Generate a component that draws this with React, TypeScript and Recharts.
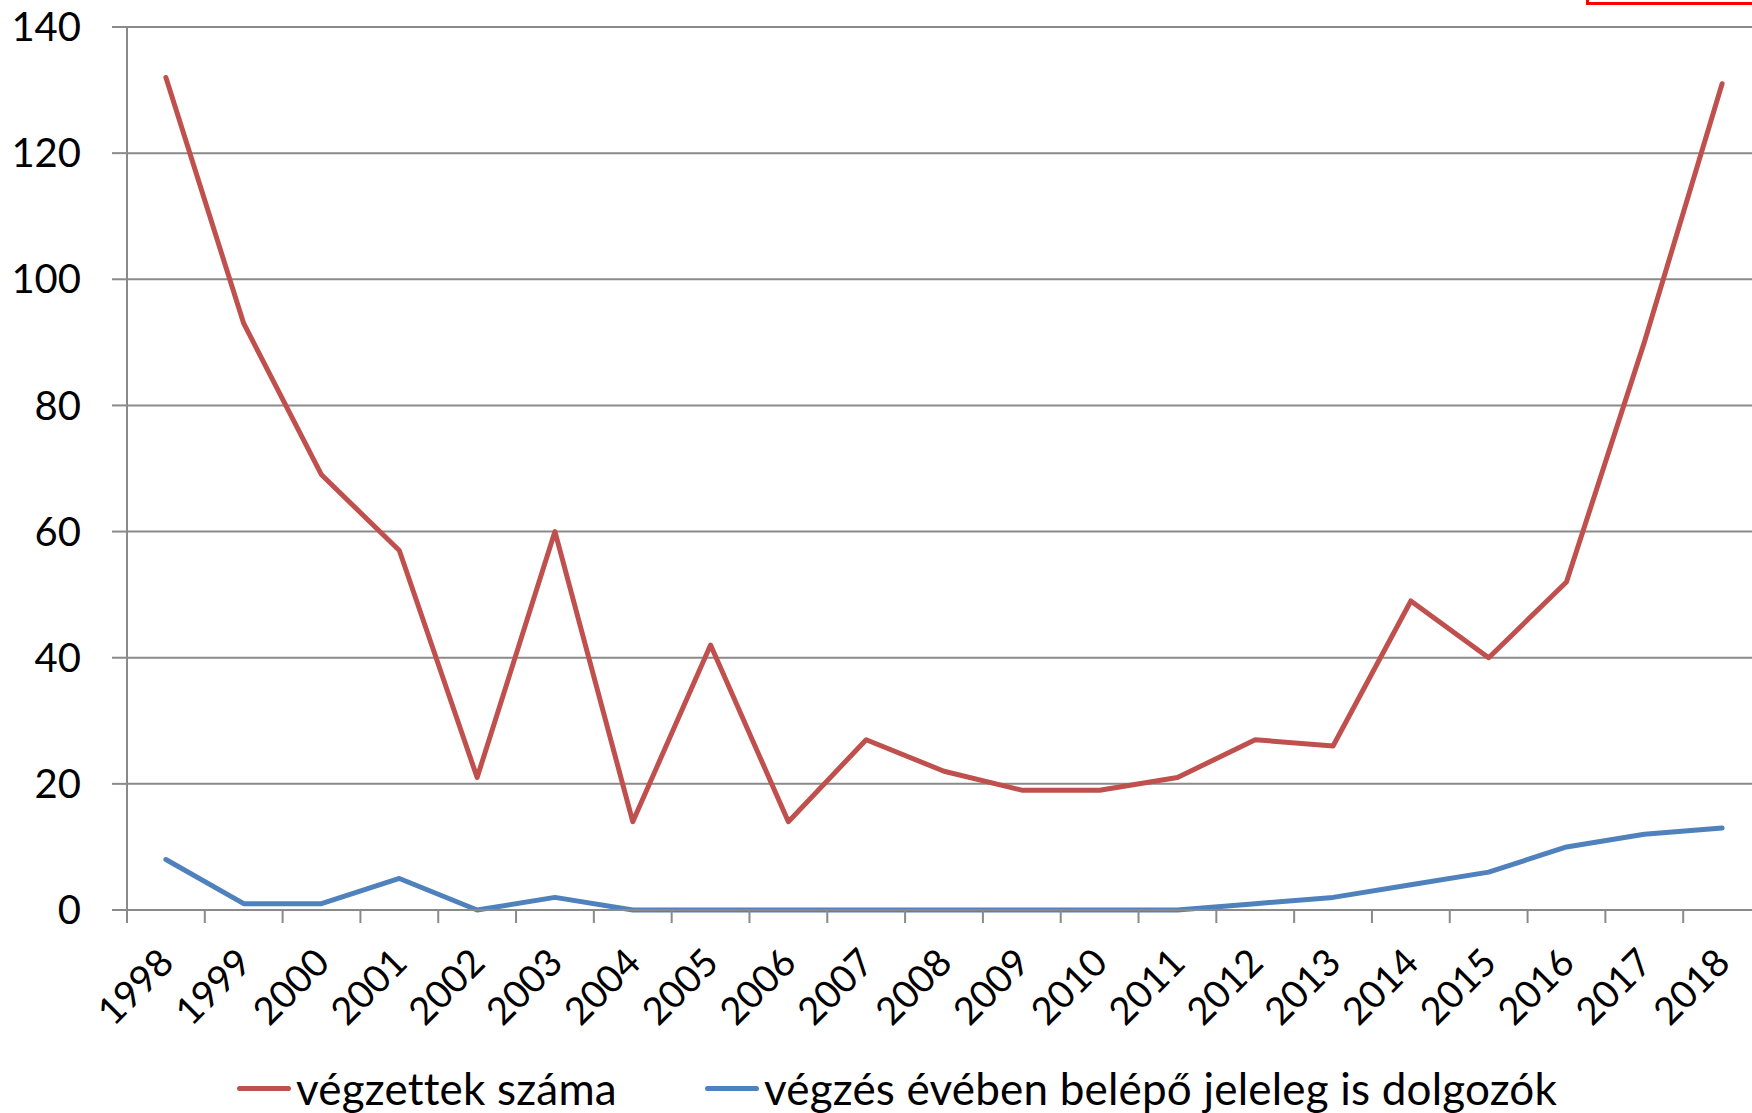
import React from 'react';
import { LineChart, Line, XAxis, YAxis, CartesianGrid, Legend } from 'recharts';

const years = ['1998', '1999', '2000', '2001', '2002', '2003', '2004', '2005', '2006', '2007', '2008', '2009', '2010', '2011', '2012', '2013', '2014', '2015', '2016', '2017', '2018'];
const vegzettek = [132, 93, 69, 57, 21, 60, 14, 42, 14, 27, 22, 19, 19, 21, 27, 26, 49, 40, 52, 90, 131];
const belepok = [8, 1, 1, 5, 0, 2, 0, 0, 0, 0, 0, 0, 0, 0, 1, 2, 4, 6, 10, 12, 13];
const yTicks = [0, 20, 40, 60, 80, 100, 120, 140];

const RED = '#C0504D';
const BLUE = '#4F81BD';
const GRID = '#8A8A8A';
const FONT = 'Lato, "Open Sans", sans-serif';
const BAND = 1634 / years.length;

const data = years.map((year, i) => ({ year, vegzettek: vegzettek[i], belepok: belepok[i] }));

const YearTick = (props: any) => {
  const { x, y, payload } = props;
  const lx = x - BAND / 2;
  const tx = x + 10;
  const ty = y + 42;
  return (
    <g>
      <line x1={lx} x2={lx} y1={y - 13} y2={y} stroke={GRID} strokeWidth={2} />
      <text x={tx} y={ty} transform={`rotate(-45, ${tx}, ${ty})`} textAnchor="end" fill="#000" fontSize={38} fontFamily={FONT}>
        {payload.value}
      </text>
    </g>
  );
};

const LegendContent = (props: any) => {
  const { payload } = props;
  return (
    <div style={{ display: 'flex', alignItems: 'center', height: 50, paddingLeft: 237, fontFamily: FONT, fontSize: 44, color: '#000', whiteSpace: 'nowrap' }}>
      {payload.map((entry: any, i: number) => (
        <div key={entry.value} style={{ display: 'flex', alignItems: 'center', marginLeft: i === 0 ? 0 : 88 }}>
          <div style={{ width: 54, height: 5, borderRadius: 3, background: entry.color, marginRight: 5 }} />
          <span style={{ lineHeight: '50px', letterSpacing: i === 0 ? 0.2 : 0.2 }}>{entry.value}</span>
        </div>
      ))}
    </div>
  );
};

export default function App() {
  return (
    <div style={{ position: 'absolute', left: 0, top: 0, width: 1752, height: 1113, overflow: 'hidden', background: '#fff' }}>
      <div style={{ position: 'absolute', left: 1586, top: -20, width: 300, height: 25, border: '3px solid #FF0000', boxSizing: 'border-box' }} />
      <LineChart width={1770} height={1113} data={data} margin={{ top: 27, right: 9, left: 0, bottom: 0 }}>
        <CartesianGrid horizontal vertical={false} stroke={GRID} strokeWidth={2} />
        <XAxis
          dataKey="year"
          scale="band"
          height={153}
          interval={0}
          tick={<YearTick />}
          tickLine={false}
          tickSize={13}
          tickMargin={0}
          axisLine={{ stroke: GRID, strokeWidth: 2 }}
        />
        <YAxis
          width={127}
          domain={[0, 140]}
          ticks={yTicks}
          interval={0}
          tickSize={15}
          tickMargin={31}
          tickLine={{ stroke: GRID, strokeWidth: 2 }}
          axisLine={{ stroke: GRID, strokeWidth: 2 }}
          tick={{ fill: '#000', fontSize: 40, fontFamily: FONT }}
        />
        <Legend verticalAlign="bottom" align="left" content={<LegendContent />} wrapperStyle={{ left: 0, width: 1770 }} />
        <Line dataKey="vegzettek" name="végzettek száma" stroke={RED} strokeWidth={5} strokeLinejoin="round" strokeLinecap="round" dot={false} isAnimationActive={false} />
        <Line dataKey="belepok" name="végzés évében belépő jeleleg is dolgozók" stroke={BLUE} strokeWidth={5} strokeLinejoin="round" strokeLinecap="round" dot={false} isAnimationActive={false} />
      </LineChart>
    </div>
  );
}
